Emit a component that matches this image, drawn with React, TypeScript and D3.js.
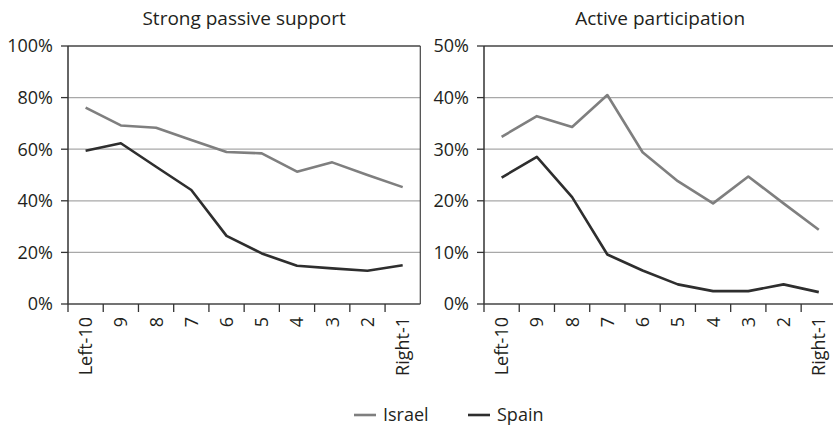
import React from "react";
import * as d3 from "d3";

const categories = ["Left-10", "9", "8", "7", "6", "5", "4", "3", "2", "Right-1"];
const seriesNames = ["Israel", "Spain"];
const passiveIsrael = [76.1, 69.2, 68.3, 63.6, 58.9, 58.4, 51.3, 54.9, 50.0, 45.3];
const passiveSpain = [59.4, 62.3, 53.2, 44.2, 26.4, 19.6, 14.8, 13.8, 12.9, 15.0];
const activeIsrael = [32.4, 36.4, 34.3, 40.5, 29.4, 23.8, 19.5, 24.7, 19.5, 14.4];
const activeSpain = [24.5, 28.5, 20.7, 9.6, 6.5, 3.8, 2.5, 2.5, 3.8, 2.3];
const passiveTicks = [0, 20, 40, 60, 80, 100];
const activeTicks = [0, 10, 20, 30, 40, 50];

const COLORS: Record<string, string> = { Israel: "#7f7f7f", Spain: "#2e2e2e" };
const FONT = "'Open Sans', sans-serif";
const W = 833;
const H = 427;

type PanelProps = {
  title: string;
  x0: number;
  x1: number;
  ticks: number[];
  series: { name: string; values: number[] }[];
};

function Panel({ title, x0, x1, ticks, series }: PanelProps) {
  const top = 46;
  const bottom = 304;
  const x = d3.scaleBand<string>().domain(categories).range([x0, x1]).padding(0);
  const y = d3.scaleLinear().domain([0, ticks[ticks.length - 1]]).range([bottom, top]);
  const line = d3
    .line<number>()
    .x((_, i) => (x(categories[i]) as number) + x.bandwidth() / 2)
    .y((d) => y(d));
  const boundaries = categories.map((c) => x(c) as number);
  return (
    <g>
      <text x={(x0 + x1) / 2} y={25} textAnchor="middle" fontFamily={FONT} fontSize={19} fill="#231f20">
        {title}
      </text>
      {ticks.slice(1, -1).map((t) => (
        <line key={"g" + t} x1={x0} x2={x1} y1={y(t)} y2={y(t)} stroke="#a8a8a8" strokeWidth={1.2} />
      ))}
      <line x1={x0} x2={x1} y1={y(ticks[ticks.length - 1])} y2={y(ticks[ticks.length - 1])} stroke="#444" strokeWidth={1.6} />
      <line x1={x1} x2={x1} y1={top} y2={bottom} stroke="#444" strokeWidth={1.2} />
      {series.map((s) => (
        <path key={s.name} d={line(s.values) || ""} fill="none" stroke={COLORS[s.name]} strokeWidth={2.6} strokeLinejoin="round" />
      ))}
      <line x1={x0} x2={x0} y1={top} y2={bottom} stroke="#333" strokeWidth={1.5} />
      <line x1={x0} x2={x1} y1={bottom} y2={bottom} stroke="#444" strokeWidth={1.6} />
      {ticks.map((t) => (
        <g key={"t" + t}>
          <line x1={x0 - 7} x2={x0} y1={y(t)} y2={y(t)} stroke="#333" strokeWidth={1.3} />
          <text x={x0 - 15} y={y(t)} dy="0.36em" textAnchor="end" fontFamily={FONT} fontSize={18} fill="#231f20">
            {t + "%"}
          </text>
        </g>
      ))}
      {boundaries.map((b, i) => (
        <line key={"xt" + i} x1={b} x2={b} y1={bottom} y2={bottom + 8} stroke="#333" strokeWidth={1.3} />
      ))}
      {categories.map((c) => {
        const cx = (x(c) as number) + x.bandwidth() / 2;
        return (
          <text
            key={"xl" + c}
            transform={`translate(${cx},${317}) rotate(-90)`}
            textAnchor="end"
            dy="0.36em"
            fontFamily={FONT}
            fontSize={18}
            fill="#231f20"
          >
            {c}
          </text>
        );
      })}
    </g>
  );
}

export default function App() {
  const legendItems = [
    { name: seriesNames[0], lx: 354, tx: 383 },
    { name: seriesNames[1], lx: 468, tx: 497 },
  ];
  return (
    <svg width={W} height={H} style={{ position: "absolute", left: 0, top: 0, background: "#fff" }}>
      <Panel
        title="Strong passive support"
        x0={68}
        x1={420.3}
        ticks={passiveTicks}
        series={[
          { name: "Israel", values: passiveIsrael },
          { name: "Spain", values: passiveSpain },
        ]}
      />
      <Panel
        title="Active participation"
        x0={484}
        x1={836.4}
        ticks={activeTicks}
        series={[
          { name: "Israel", values: activeIsrael },
          { name: "Spain", values: activeSpain },
        ]}
      />
      {legendItems.map((l) => (
        <g key={l.name}>
          <line x1={l.lx} x2={l.lx + 22} y1={415} y2={415} stroke={COLORS[l.name]} strokeWidth={2.6} />
          <text x={l.tx} y={421} fontFamily={FONT} fontSize={18} fill="#231f20">
            {l.name}
          </text>
        </g>
      ))}
    </svg>
  );
}
